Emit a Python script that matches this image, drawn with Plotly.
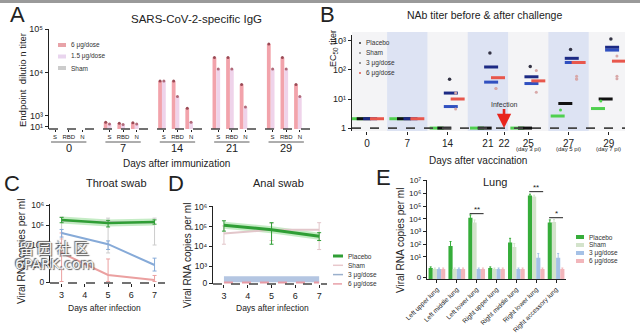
import math
import plotly.graph_objects as go

W, H = 640, 334
def px(x): return x / W
def py(y): return 1 - y / H

FONT = "Liberation Sans"
TXT = "#222222"

# ---------------- Panel A data ----------------
a_days = ["0", "7", "14", "21", "29"]
a_antigens = ["S", "RBD", "N"]
a_6ug = [0, 0, 0, 720, 680, 700, 6400, 6400, 1500, 22000, 22000, 5300, 45000, 22000, 5300]
a_15ug = [0, 0, 0, 650, 640, 650, 6400, 2800, 720, 12000, 12000, 1600, 12000, 12000, 2800]
a_sham = [0] * 15
a_names = ["6 μg/dose", "1.5 μg/dose", "Sham"]
a_colors = ["#f2a3ab", "#efd3ea", "#cfcfcf"]

# ---------------- Panel B data ----------------
b_days = ["0", "7", "14", "21", "25", "27", "29"]
b_pos = [0, 1, 2, 3, 4, 5, 6]
b_tick_pos = [0, 1, 2, 3, 3.4, 4, 5, 6]
b_tick_text = ["0", "7", "14", "21", "22", "25", "27", "29"]
b_sub = {"25": "(day 3 pi)", "27": "(day 5 pi)", "29": "(day 7 pi)"}
b_placebo = [2.1, 2.1, 1.0, 1.0, 1.0, 2.6, 4.7]
b_sham = [2.1, 2.1, 1.0, 1.0, 1.0, 7.0, 10.0]
b_3ug = [2.1, 2.1, 16, 126, 58, 250, 600]
b_3ug_low = [None, None, 5.5, 38, 34, 180, 480]
b_6ug = [2.1, 2.1, 10, 54, 42, 180, 200]
b_dots_dark = [None, None, 48, 380, 130, 500, 1150]
b_dots_pale_day = [2, 2, 3, 3, 4, 4, 5, 5, 5, 6, 6, 6]
b_dots_pale_val = [16, 4.5, 23, 23, 95, 17, 60, 50, 48, 300, 60, 50]
b_dots_green_day = [5, 6]
b_dots_green_val = [4.2, 8.5]
b_legend = ["Placebo", "Sham", "3 μg/dose", "6 μg/dose"]
b_leg_colors = ["#333333", "#888888", "#777777", "#e05a4f"]

# ---------------- Panel C data (throat swab) ----------------
c_x = [3, 5, 7]
c_placebo = [1.8e5, 1.25e5, 1.4e5]
c_placebo_hi = [2.4e5, 1.7e5, 1.8e5]
c_placebo_lo = [1.3e5, 0.8e5, 1.1e5]
c_sham = [1.6e5, 1.4e5, 1.3e5]
c_sham_hi = [2.5e5, 2.2e5, 2.2e5]
c_sham_lo = [2e4, 4e3, 1e4]
c_3ug = [4e4, 1.1e4, 1.0e3]
c_3ug_hi = [6e4, 1.6e4, 2.2e3]
c_3ug_lo = [2.5e4, 6e3, 5e2]
c_6ug = [4.0e3, 3.2e2, 1.8e2]
c_6ug_hi = [4.0e4, 2.0e3, 3.0e2]
c_6ug_lo = [1.5e2, 1.5e2, 1.5e2]

# ---------------- Panel D data (anal swab) ----------------
d_x = [3, 5, 7]
d_placebo = [1.2e5, 7e4, 3.3e4]
d_placebo_hi = [2.0e5, 1.6e5, 5e4]
d_placebo_lo = [6e4, 1.3e4, 2e4]
d_sham = [4.5e4, 7e4, 7e4]
d_sham_hi = [1.1e5, 1.5e5, 1.6e5]
d_sham_lo = [1.3e4, 2e4, 7e3]
d_3ug = [2.2e2, 2.2e2, 2.2e2]
d_6ug = [1.5e2, 1.5e2, 1.5e2]
d_legend = ["Placebo", "Sham", "3 μg/dose", "6 μg/dose"]

# ---------------- Panel E data (lung) ----------------
e_cats = ["Left upper lung", "Left middle lung", "Left lower lung", "Right upper lung",
          "Right middle lung", "Right lower lung", "Right accessory lung"]
e_placebo = [1.3, 70, 1.2e4, 1.3, 135, 6.6e5, 5.1e3]
e_placebo_err = [0.3, 90, 8e3, 0.3, 150, 2e5, 3e3]
e_sham = [1.1, 1.1, 5e3, 1.1, 60, 5.6e5, 5.6e3]
e_sham_err = [0.2, 0.2, 3e3, 0.2, 50, 1.5e5, 3e3]
e_3ug = [1.1, 1.1, 1.1, 1.1, 1.1, 8.3, 8.3]
e_3ug_err = [0.2, 0.2, 0.2, 0.2, 0.2, 10, 10]
e_6ug = [1.1, 1.1, 1.1, 1.1, 1.1, 1.1, 1.1]
e_sig_cat = [2, 5, 6]
e_sig_level = [2.5e4, 1.35e6, 1.2e4]
e_sig_text = ["**", "**", "*"]
e_names = ["Placebo", "Sham", "3 μg/dose", "6 μg/dose"]
e_colors = ["#36ad3a", "#d3e3cb", "#a5c1e6", "#f2b6bb"]

fig = go.Figure()

# ---- A bars ----
a_pos = [gi * 4 + ai for gi in range(len(a_days)) for ai in range(len(a_antigens))]
for vals, name, col in zip([a_6ug, a_15ug, a_sham], a_names, a_colors):
    fig.add_trace(go.Bar(x=a_pos, y=vals, name=name, marker=dict(color=col, line=dict(width=0)),
                         xaxis="x", yaxis="y", showlegend=False))
for vals, off, col in zip([a_6ug, a_15ug], [-0.28, 0.0], ["#9a4a55", "#b06a7a"]):
    fig.add_trace(go.Scatter(x=[p + off for p, v in zip(a_pos, vals) if v > 0],
                             y=[v for v in vals if v > 0], mode="markers",
                             marker=dict(size=3, color=col), xaxis="x", yaxis="y", showlegend=False))

# ---- B dashes ----
b_series = [(b_placebo, -0.27, "#4fd04f"), (b_sham, -0.08, "#111111"),
            (b_3ug, 0.08, "#1c2a84"), (b_3ug_low, 0.08, "#3050c0"), (b_6ug, 0.25, "#e8574c")]
for vals, off, col in b_series:
    xs = [p + off for p, v in zip(b_pos, vals) if v is not None]
    ys = [v for v in vals if v is not None]
    fig.add_trace(go.Scatter(x=xs, y=ys, mode="markers", xaxis="x2", yaxis="y2", showlegend=False,
                             marker=dict(symbol="line-ew", size=10, line=dict(width=3, color=col))))
fig.add_trace(go.Scatter(x=[p + 0.05 for p, v in zip(b_pos, b_dots_dark) if v],
                         y=[v for v in b_dots_dark if v], mode="markers", xaxis="x2", yaxis="y2",
                         marker=dict(size=3.5, color="#333344"), showlegend=False))
fig.add_trace(go.Scatter(x=[b_pos[d] + 0.2 for d in b_dots_pale_day], y=b_dots_pale_val, mode="markers",
                         xaxis="x2", yaxis="y2", marker=dict(size=3, color="#d8a8a8"), showlegend=False))
fig.add_trace(go.Scatter(x=[b_pos[d] - 0.2 for d in b_dots_green_day], y=b_dots_green_val, mode="markers",
                         xaxis="x2", yaxis="y2", marker=dict(size=3, color="#4fd04f"), showlegend=False))

# ---- C & D lines ----
def err(y, hi, lo):
    return dict(type="data", symmetric=False, array=[h - v for h, v in zip(hi, y)],
                arrayminus=[v - l for v, l in zip(y, lo)], thickness=1, width=2)

c_series = [(c_sham, c_sham_hi, c_sham_lo, "#cccccc", 2),
            (c_6ug, c_6ug_hi, c_6ug_lo, "#eba0a0", 2),
            (c_3ug, c_3ug_hi, c_3ug_lo, "#86aad8", 2),
            (c_placebo, c_placebo_hi, c_placebo_lo, "#2f9e35", 2.5)]
fig.add_trace(go.Scatter(x=c_x, y=c_placebo, mode="lines", xaxis="x3", yaxis="y3", showlegend=False,
                         line=dict(color="rgba(90,200,90,0.35)", width=7)))
for y, hi, lo, col, w in c_series:
    fig.add_trace(go.Scatter(x=c_x, y=y, mode="lines", xaxis="x3", yaxis="y3", showlegend=False,
                             line=dict(color=col, width=w), error_y=dict(err(y, hi, lo), color=col)))

d_series = [(d_sham, d_sham_hi, d_sham_lo, "#e2c6ca", 2),
            (d_placebo, d_placebo_hi, d_placebo_lo, "#2f9e35", 3)]
fig.add_trace(go.Scatter(x=d_x, y=d_3ug, mode="lines", xaxis="x4", yaxis="y4", showlegend=False,
                         line=dict(color="#b4c6e2", width=6)))
fig.add_trace(go.Scatter(x=d_x, y=d_6ug, mode="lines", xaxis="x4", yaxis="y4", showlegend=False,
                         line=dict(color="#e89aa4", width=2, dash="dash")))
fig.add_trace(go.Scatter(x=d_x, y=d_placebo, mode="lines", xaxis="x4", yaxis="y4", showlegend=False,
                         line=dict(color="rgba(90,200,90,0.35)", width=7)))
for y, hi, lo, col, w in d_series:
    fig.add_trace(go.Scatter(x=d_x, y=y, mode="lines", xaxis="x4", yaxis="y4", showlegend=False,
                             line=dict(color=col, width=w), error_y=dict(err(y, hi, lo), color=col)))

# ---- E bars ----
for vals, errs, name, col in zip([e_placebo, e_sham, e_3ug, e_6ug],
                                 [e_placebo_err, e_sham_err, e_3ug_err, [0.2] * 7], e_names, e_colors):
    fig.add_trace(go.Bar(x=e_cats, y=vals, name=name, marker=dict(color=col, line=dict(width=0)),
                         error_y=dict(type="data", array=errs, color=col, thickness=1, width=1),
                         xaxis="x5", yaxis="y5", showlegend=False))

shapes = []
ann = []

# top strip
shapes.append(dict(type="rect", xref="paper", yref="paper", x0=0, x1=1, y0=py(3), y1=1,
                   fillcolor="#9a9a9a", line=dict(width=0)))

# B background bands
shapes.append(dict(type="rect", xref="x2 domain", yref="y2 domain", x0=0, x1=1, y0=0, y1=1.03,
                   fillcolor="#f4f4f6", line=dict(width=0), layer="below"))
for p in [1, 3, 5]:
    shapes.append(dict(type="rect", xref="x2", yref="y2 domain", x0=p - 0.5, x1=p + 0.5, y0=0, y1=1.03,
                       fillcolor="#dde3f3", line=dict(width=0), layer="below"))

# dashed baselines
for xa in ["x", "x3", "x4"]:
    ya = "y" + xa[1:]
    shapes.append(dict(type="line", xref=xa + " domain", yref=ya + " domain", x0=0, x1=1, y0=0, y1=0,
                       line=dict(color="#444444", width=1.6, dash="dash")))
shapes.append(dict(type="line", xref="x2 domain", yref="y2", x0=0, x1=1, y0=1, y1=1,
                   line=dict(color="#444444", width=1.6, dash="dash")))

C = dict(xanchor="center", yanchor="middle", showarrow=False)

# A group underlines and day labels
for gi, d in enumerate(a_days):
    shapes.append(dict(type="line", xref="x", yref="paper", x0=gi * 4 - 0.3, x1=gi * 4 + 2.3,
                       y0=py(142), y1=py(142), line=dict(color="#333", width=0.8)))
    ann.append(dict(x=gi * 4 + 1, y=py(148), xref="x", yref="paper", text=d,
                    font=dict(size=11, color=TXT), **C))

# B sub labels
for d, s in b_sub.items():
    ann.append(dict(x=b_pos[b_days.index(d)], y=py(149), xref="x2", yref="paper", text=s,
                    font=dict(size=6, color=TXT), **C))
# infection arrow
ann.append(dict(x=3.4, y=0, xref="x2", yref="y2", text="Infection", showarrow=True, ax=0, ay=-24,
                arrowcolor="#e8241c", arrowhead=2, arrowsize=1.1, arrowwidth=2.6,
                font=dict(size=7, color="#333")))

# E significance brackets
for c, lv, t in zip(e_sig_cat, e_sig_level, e_sig_text):
    shapes.append(dict(type="line", xref="x5", yref="y5", x0=c - 0.35, x1=c + 0.35, y0=lv, y1=lv,
                       line=dict(color="#222", width=1)))
    ann.append(dict(x=c, y=math.log10(lv), xref="x5", yref="y5", text=t, yshift=4,
                    font=dict(size=8, color=TXT), **C))

# Manual legends
def legend(names, colors, x0, y0, dy, kind, size=6.5, dashes=None, widths=None):
    for i, (n, c) in enumerate(zip(names, colors)):
        yy = y0 + i * dy
        if kind == "rect":
            shapes.append(dict(type="rect", xref="paper", yref="paper", x0=px(x0), x1=px(x0 + 8),
                               y0=py(yy + 2), y1=py(yy - 2), fillcolor=c, line=dict(width=0)))
            tx = x0 + 11
        elif kind == "dot":
            shapes.append(dict(type="line", xref="paper", yref="paper", x0=px(x0), x1=px(x0 + 2),
                               y0=py(yy), y1=py(yy), line=dict(color=c, width=1.5)))
            tx = x0 + 5
        else:
            shapes.append(dict(type="line", xref="paper", yref="paper", x0=px(x0), x1=px(x0 + 10),
                               y0=py(yy), y1=py(yy),
                               line=dict(color=c, width=widths[i], dash=dashes[i])))
            tx = x0 + 13
        ann.append(dict(x=px(tx), y=py(yy), xref="paper", yref="paper", text=n, showarrow=False,
                        xanchor="left", yanchor="middle", font=dict(size=size, color="#333")))

legend(a_names, ["#e8a3a8", "#e9d5ee", "#cccccc"], 58, 45, 11.5, "rect")
legend(b_legend, b_leg_colors, 359, 43, 10, "dot")
legend(d_legend, ["#2f9e35", "#e8c8cc", "#9ab0cc", "#e8a0a8"], 333, 256, 9.3, "line", size=6.5,
       dashes=["solid", "solid", "solid", "dash"], widths=[3, 1.5, 1.5, 1.5])
legend(e_names, e_colors, 576, 237, 8, "rect", size=6.5)

def T(x, y, s, size, angle=0):
    ann.append(dict(x=px(x), y=py(y), xref="paper", yref="paper", text=s, textangle=angle,
                    font=dict(size=size, color=TXT), **C))

T(17, 15, "A", 22)
T(327, 15, "B", 22)
T(12, 183, "C", 22)
T(176, 183, "D", 22)
T(383, 177, "E", 22)
T(196, 19, "SARS-CoV-2-specific IgG", 11.5)
T(484, 15, "NAb titer before & after challenge", 10.5)
T(116, 183, "Throat swab", 11)
T(278, 183, "Anal swab", 11)
T(495, 182, "Lung", 11)
T(176, 163, "Days after immunization", 10)
T(478, 160, "Days after vaccination", 10)
T(104, 308, "Days after infection", 8.5)
T(272, 308, "Days after infection", 8.5)
T(22, 80, "Endpoint  dilutio n titer", 9.5, -90)
T(333, 49, "EC<sub>50</sub> titer", 9, -90)
T(22, 252, "Viral RNA copies per ml", 10, -90)
T(187, 256, "Viral RNA copies per ml", 10, -90)
T(400, 241, "Viral RNA copies per ml", 10, -90)

# Watermark
ann.append(dict(x=px(54), y=py(247), xref="paper", yref="paper", text="留 园 社 区",
                font=dict(size=15, color="#f4f4f4", family="Noto Sans CJK SC",
                          shadow="1px 1px 1px #555, -1px -1px 1px #555"), **C))
ann.append(dict(x=px(54), y=py(264), xref="paper", yref="paper", text="6PARK.com",
                font=dict(size=14, color="#f4f4f4", family="DejaVu Sans",
                          shadow="1px 1px 1px #555, -1px -1px 1px #555"), **C))

ax_common = dict(showgrid=False, zeroline=False, ticks="outside", ticklen=3, tickwidth=1, automargin=False,
                 tickcolor="#222", tickfont=dict(size=9, color=TXT, family=FONT))
ylog_common = dict(ax_common, type="log", showline=True, linecolor="#222", linewidth=1.3)

layout = dict(
    template="none",
    width=W, height=H, margin=dict(l=0, r=0, t=0, b=0, pad=0, autoexpand=False),
    paper_bgcolor="white", plot_bgcolor="rgba(0,0,0,0)",
    font=dict(family=FONT, color=TXT), barmode="group", bargap=0.16, bargroupgap=0, showlegend=False,
    xaxis=dict(ax_common, domain=[px(49), px(310)], range=[-0.45, 18.75], anchor="y",
               tickvals=a_pos, ticktext=a_antigens * len(a_days), tickfont=dict(size=6, color=TXT),
               ticklen=2),
    yaxis=dict(ylog_common, domain=[py(129), py(29)], range=[2.7, 5.0], anchor="x",
               tickvals=[10 ** 2.75, 1e3, 1e4, 1e5], ticktext=["10¹", "10³", "10⁴", "10⁵"]),
    xaxis2=dict(ax_common, domain=[px(352), px(625)], range=[-0.37, 6.4], anchor="y2",
                tickvals=b_tick_pos, ticktext=b_tick_text, tickfont=dict(size=10, color=TXT)),
    yaxis2=dict(ylog_common, domain=[py(131), py(35)], range=[-0.1, 3.2], anchor="x2",
                tickvals=[1, 10, 100, 1000], ticktext=["1", "10¹", "10²", "10³"]),
    xaxis3=dict(ax_common, domain=[px(50), px(165)], range=[2.5, 7.45], anchor="y3", dtick=1,
                tickfont=dict(size=9, color=TXT)),
    yaxis3=dict(ylog_common, domain=[py(283), py(204)], range=[2.1, 6.05], anchor="x3",
                tickvals=[10 ** 2.15, 1e3, 1e4, 1e5, 1e6], ticktext=["0", "10³", "10⁴", "10⁵", "10⁶"],
                tickfont=dict(size=8.5, color=TXT)),
    xaxis4=dict(ax_common, domain=[px(213), px(327)], range=[2.54, 7.33], anchor="y4", dtick=1,
                tickfont=dict(size=9, color=TXT)),
    yaxis4=dict(ylog_common, domain=[py(284), py(206)], range=[2.1, 6.05], anchor="x4",
                tickvals=[10 ** 2.15, 1e3, 1e4, 1e5, 1e6], ticktext=["0", "10³", "10⁴", "10⁵", "10⁶"],
                tickfont=dict(size=8.5, color=TXT)),
    xaxis5=dict(ax_common, domain=[px(427), px(566)], range=[-0.5, 6.5], anchor="y5", type="category",
                tickangle=-45, tickfont=dict(size=6.5, color=TXT), showline=True, linecolor="#222",
                linewidth=1.3),
    yaxis5=dict(ylog_common, domain=[py(279), py(180)], range=[-0.75, 7.05], anchor="x5",
                tickvals=[10 ** -0.6] + [10 ** k for k in range(1, 8)],
                ticktext=["0", "10¹", "10²", "10³", "10⁴", "10⁵", "10⁶", "10⁷"],
                tickfont=dict(size=8, color=TXT)),
    shapes=shapes, annotations=ann,
)
fig.update_layout(**layout)
fig.write_html("out.html")
